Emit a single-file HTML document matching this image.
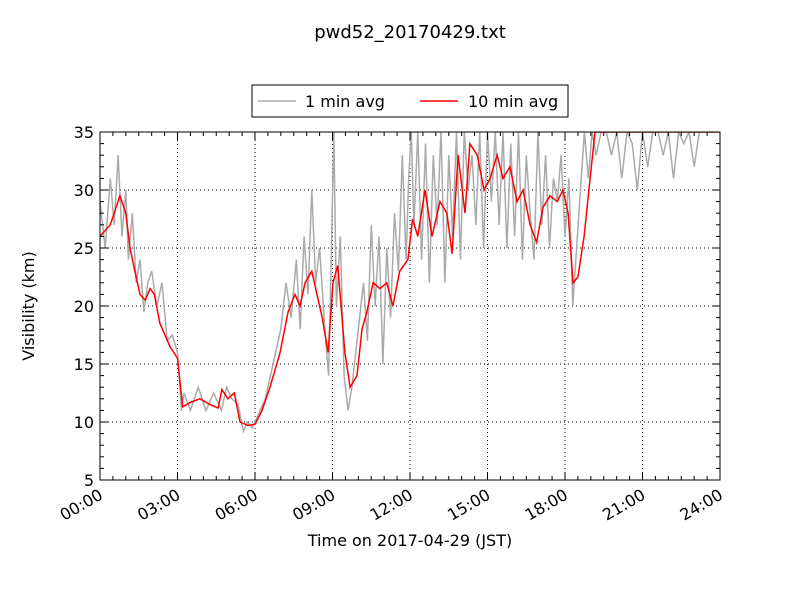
<!DOCTYPE html>
<html><head><meta charset="utf-8"><style>
body{margin:0;background:#fff;}
svg{display:block;font-family:"DejaVu Sans","Liberation Sans",sans-serif;}
</style></head><body>
<svg id="chart" width="800" height="600" viewBox="0 0 800 600">
<rect width="800" height="600" fill="#fff"/>
<text x="410" y="38" font-size="18" text-anchor="middle">pwd52_20170429.txt</text>
<defs><clipPath id="clip"><rect x="100" y="132" width="620" height="348"/></clipPath></defs>
<g id="grid"></g>
<g clip-path="url(#clip)"><path id="gray" fill="none" stroke="#aaaaaa" stroke-width="1.5"/><path id="red" fill="none" stroke="#ff0000" stroke-width="1.5"/></g>
<g id="ticks"></g>
<rect x="100" y="132" width="620" height="348" fill="none" stroke="#000" stroke-width="1"/>
<text x="410" y="546" font-size="16" text-anchor="middle">Time on 2017-04-29 (JST)</text>
<text transform="translate(34,306) rotate(-90)" font-size="16" text-anchor="middle">Visibility (km)</text>
<g>
<rect x="252" y="85" width="316" height="32" fill="#fff" stroke="#000"/>
<line x1="258" y1="101" x2="296" y2="101" stroke="#aaaaaa" stroke-width="1.5"/>
<text x="305" y="107" font-size="16">1 min avg</text>
<line x1="420" y1="101" x2="458" y2="101" stroke="#ff0000" stroke-width="1.5"/>
<text x="468" y="107" font-size="16">10 min avg</text>
</g>
</svg>
<script>
const redHours=[0,0.4,0.77,1.0,1.16,1.35,1.55,1.75,1.94,2.1,2.32,2.71,3.0,3.2,3.5,3.87,4.26,4.57,4.72,4.95,5.2,5.42,5.73,6.0,6.27,6.58,6.97,7.28,7.55,7.74,7.94,8.2,8.4,8.6,8.83,9.02,9.2,9.48,9.68,9.95,10.14,10.33,10.57,10.84,11.1,11.34,11.6,11.92,12.1,12.3,12.58,12.85,13.16,13.43,13.63,13.86,14.13,14.32,14.6,14.87,15.1,15.37,15.6,15.87,16.14,16.38,16.65,16.9,17.15,17.42,17.7,17.92,18.12,18.31,18.5,18.74,18.97,19.16,24];
const redValues=[26,27,29.5,28,25,23,21,20.5,21.5,21,18.5,16.5,15.5,11.3,11.7,12,11.5,11.2,12.8,12,12.5,10,9.7,9.8,11,13,16,19.5,21,20,22,23,21,19,16,22,23.5,16,13,14,18,19.5,22,21.5,22,20,23,24,27.5,26,30,26,29,28,24.5,33,28,34,33,30,31,33,31,32,29,30,27,25.5,28.5,29.5,29,30,28,22,22.5,26,31,35,35];
const grayHours=[0,0.2,0.4,0.55,0.7,0.85,1.0,1.1,1.25,1.4,1.55,1.7,1.85,2.0,2.2,2.4,2.6,2.8,3.0,3.15,3.25,3.5,3.8,4.1,4.4,4.7,4.9,5.1,5.35,5.55,5.7,5.9,6.1,6.4,6.7,7.0,7.2,7.4,7.6,7.75,7.9,8.05,8.2,8.35,8.5,8.7,8.85,8.95,9.05,9.15,9.3,9.45,9.6,9.75,9.9,10.05,10.2,10.35,10.5,10.65,10.8,10.95,11.1,11.25,11.4,11.55,11.7,11.85,11.95,12.05,12.15,12.3,12.45,12.6,12.75,12.9,13.05,13.2,13.35,13.5,13.65,13.8,13.95,14.1,14.25,14.4,14.55,14.7,14.85,15.0,15.15,15.3,15.45,15.6,15.75,15.9,16.05,16.2,16.35,16.5,16.65,16.8,16.95,17.1,17.25,17.4,17.55,17.7,17.85,18.0,18.15,18.3,18.45,18.6,18.75,18.9,19.05,19.2,19.4,19.6,19.8,20.0,20.2,20.4,20.6,20.8,21.0,21.2,21.4,21.6,21.8,22.0,22.2,22.4,22.6,22.8,23.0,23.2,23.4,23.6,23.8,24];
const grayValues=[29,25,31,27,33,26,30,24,28,22,24,19.5,22,23,20,22,17,17.5,16,11,12.5,11,13,11,12.5,11,13,12,11.5,9.2,10,9.5,10.5,12,15,18,22,19,24,18,26,21,30,22,25,18,14,24,35,20,26,14,11,13,16,19,22,17,27,20,26,15,25,19,28,23,33,24,31,35,27,35,24,34,22,33,27,35,22,33,26,35,24,35,30,33,27,35,25,35,29,35,27,35,25,34,26,35,24,33,28,24,35,27,33,25,31,29,33,26,31,20,25,30,35,31,35,33,35,35,33,35,31,35,34,30,35,32,35,35,33,35,31,35,34,35,32,35];
const X=h=>100+h/24*620, Y=v=>480-(v-5)/30*348;
function path(hs,vs){return hs.map((h,i)=>(i?'L':'M')+X(h).toFixed(1)+','+Y(vs[i]).toFixed(1)).join('');}
document.getElementById('gray').setAttribute('d',path(grayHours,grayValues));
document.getElementById('red').setAttribute('d',path(redHours,redValues));
const NS='http://www.w3.org/2000/svg';
const xTickLabels=['00:00','03:00','06:00','09:00','12:00','15:00','18:00','21:00','24:00'];
const yTickLabels=[5,10,15,20,25,30,35];
const g=document.getElementById('grid'),t=document.getElementById('ticks');
function mk(p,tag,a){const e=document.createElementNS(NS,tag);for(const k in a)e.setAttribute(k,a[k]);p.appendChild(e);return e;}
xTickLabels.forEach((lab,i)=>{const x=X(i*3);
 if(i>0&&i<8){const l=mk(g,'line',{x1:x,x2:x,y1:132,y2:480,stroke:'#000','stroke-dasharray':'1,3','stroke-width':1});
 
 }
 const tx=mk(t,'text',{x:x+4,y:498,'font-size':16,'text-anchor':'end',transform:`rotate(-30 ${x+4} 498)`});
 
 
 tx.textContent=lab;});
for(let h=0;h<=24;h+=0.5){const x=X(h),L=(h%3===0)?8:4;
 mk(t,'line',{x1:x,x2:x,y1:480,y2:480-L,stroke:'#000'});mk(t,'line',{x1:x,x2:x,y1:132,y2:132+L,stroke:'#000'});}
yTickLabels.forEach(v=>{const y=Y(v);
 if(v>5&&v<35){const l=mk(g,'line',{x1:100,x2:720,y1:y,y2:y,stroke:'#000','stroke-dasharray':'1,3','stroke-width':1});
 
 }
 const tx=mk(t,'text',{x:94,y:y+6,'font-size':16,'text-anchor':'end'});
 
 
 tx.textContent=v;});
for(let v=5;v<=35;v++){const y=Y(v),L=(v%5===0)?8:4;
 mk(t,'line',{x1:100,x2:100+L,y1:y,y2:y,stroke:'#000'});mk(t,'line',{x1:720,x2:720-L,y1:y,y2:y,stroke:'#000'});}
</script>
</body></html>
